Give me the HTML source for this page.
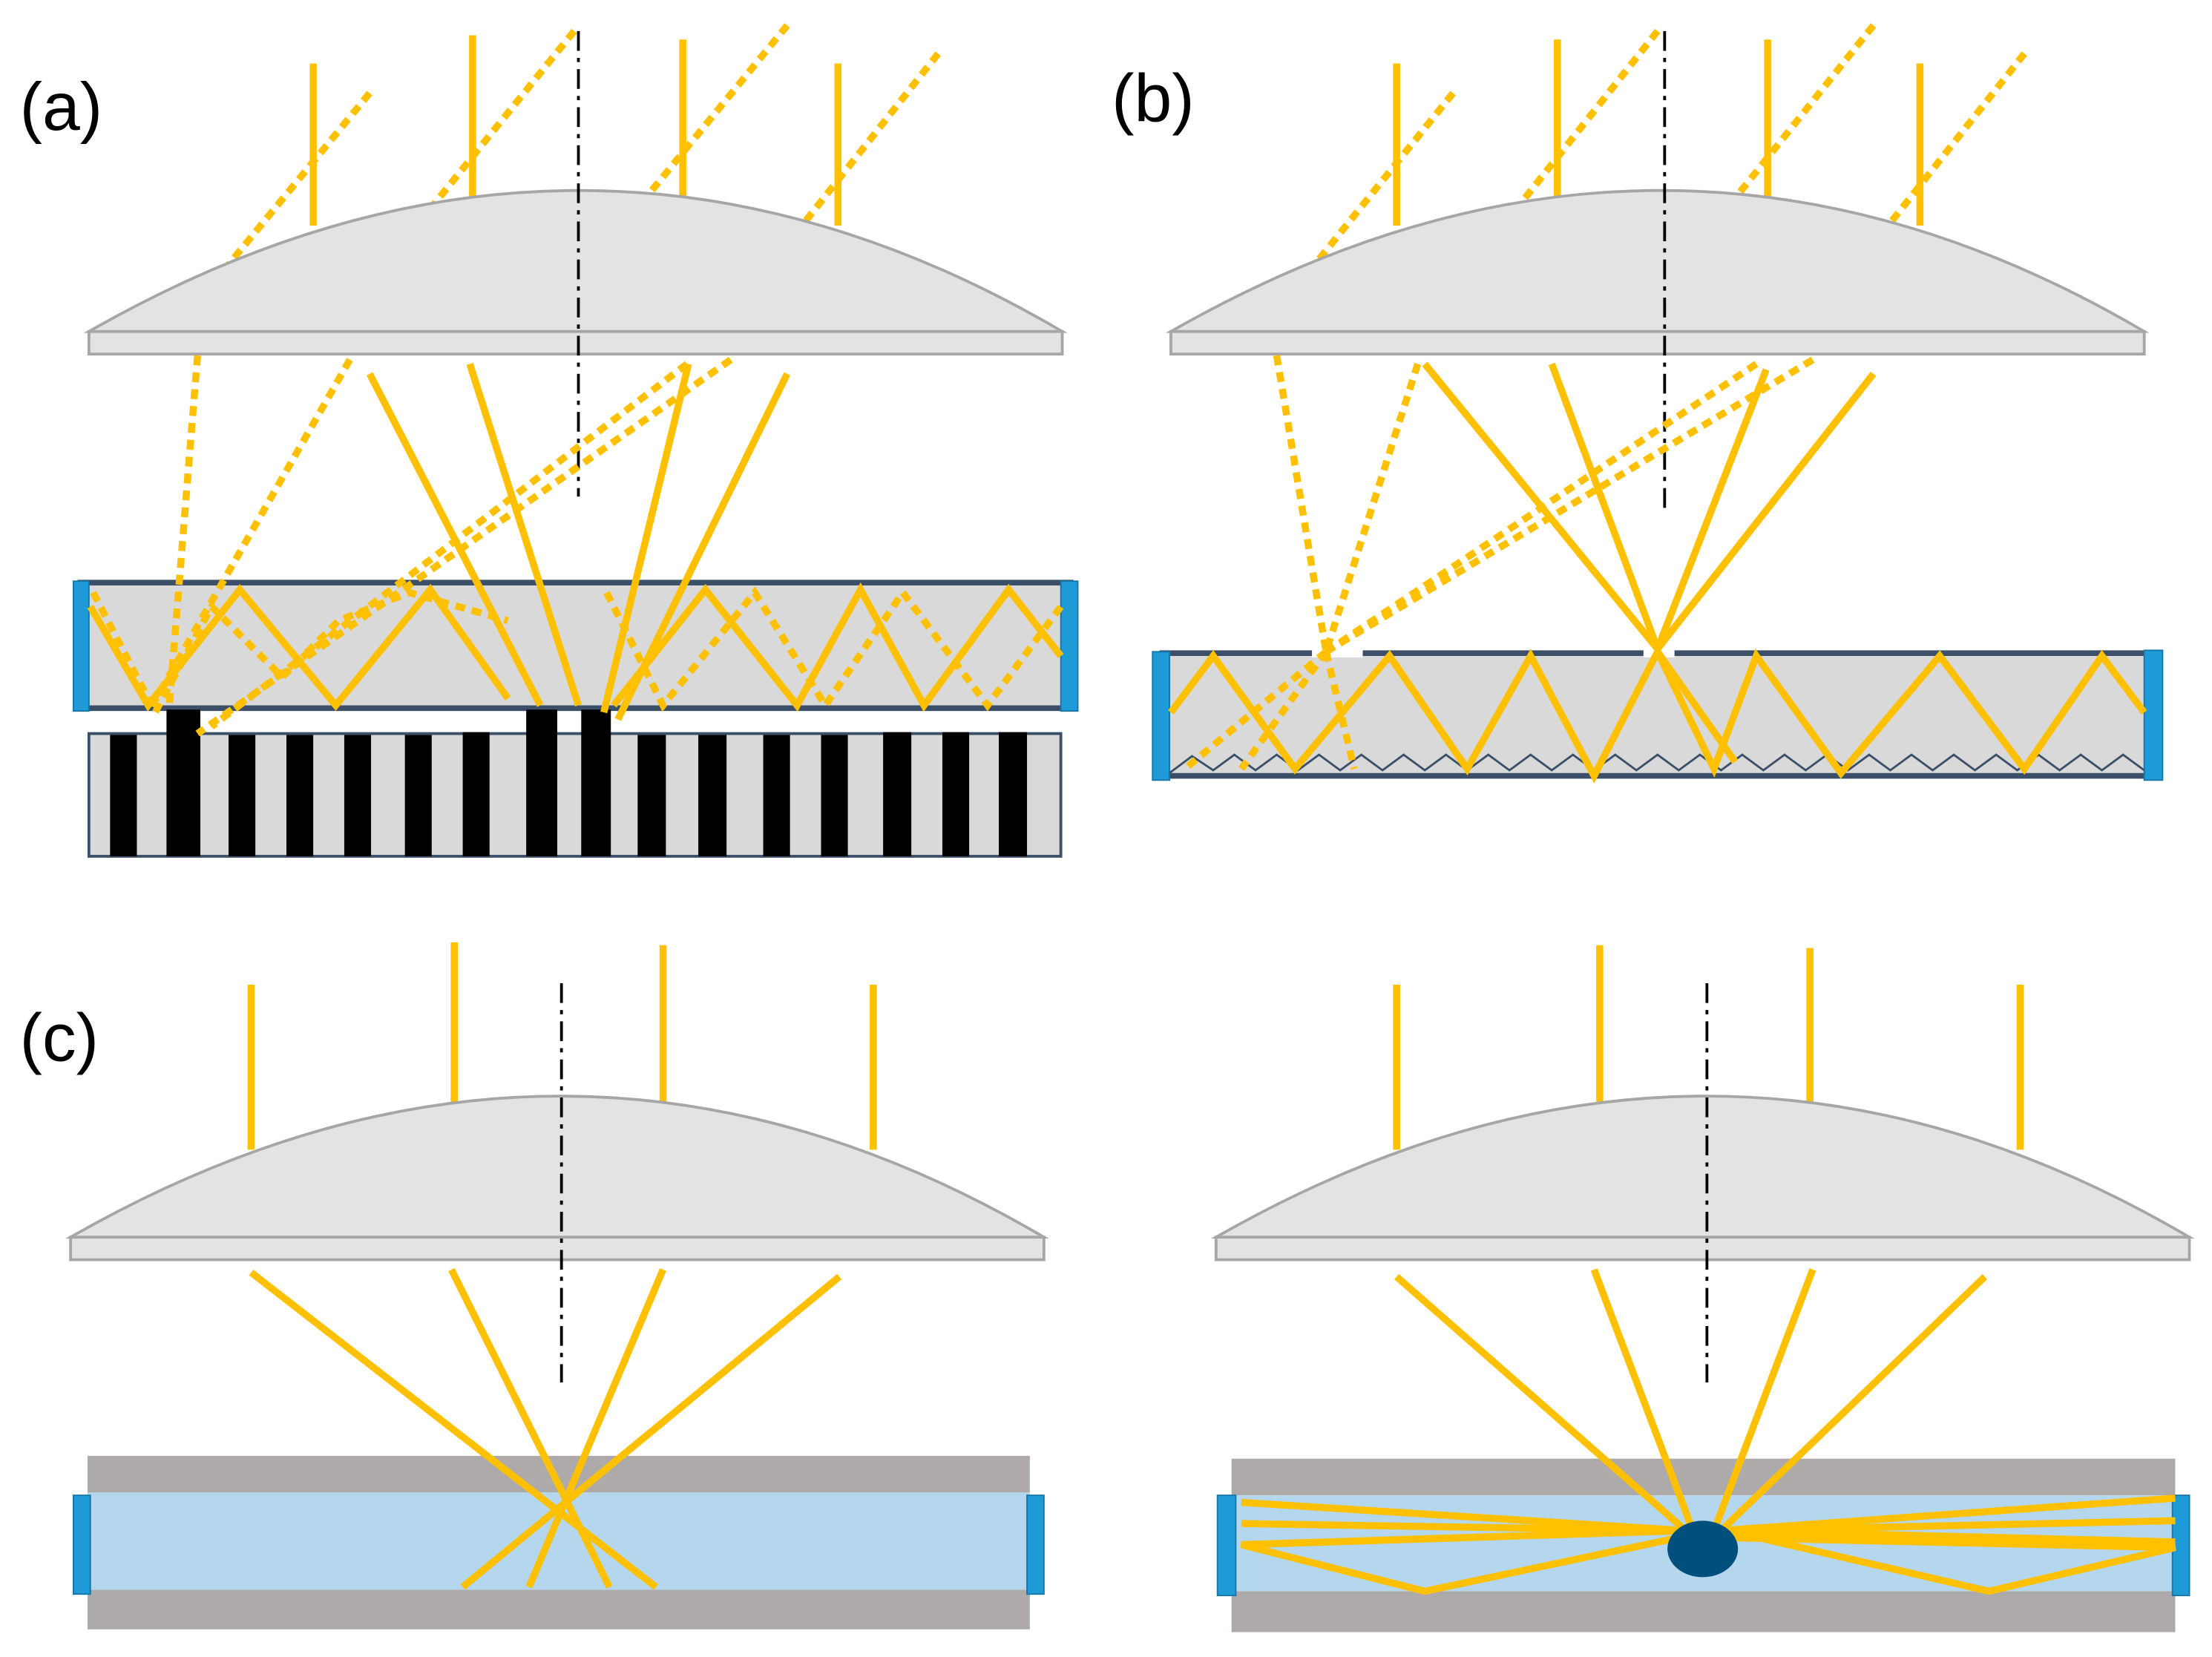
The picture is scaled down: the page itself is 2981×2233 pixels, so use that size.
<!DOCTYPE html>
<html><head><meta charset="utf-8"><style>html,body{margin:0;padding:0;background:#fff}svg{display:block}</style></head><body>
<svg width="2981" height="2233" viewBox="0 0 1568 1174.6" xmlns="http://www.w3.org/2000/svg">
<defs>
<g id="lens"><path d="M0,100 Q350,-100 690,100 Z" fill="#e3e3e3" stroke="#a6a6a6" stroke-width="2"/><rect x="0" y="100" width="690" height="16" fill="#e3e3e3" stroke="#a6a6a6" stroke-width="2"/></g>
</defs>
<g font-family="Liberation Sans, sans-serif" font-size="48" fill="#000">
<text x="14" y="92">(a)</text><text x="788" y="86">(b)</text><text x="14" y="752">(c)</text></g>

<!-- Panel a -->
<g stroke="#FFC000" stroke-width="5" fill="none">
<line x1="222" y1="45" x2="222" y2="160"/><line x1="335" y1="25" x2="335" y2="140"/><line x1="484" y1="28" x2="484" y2="140"/><line x1="594" y1="45" x2="594" y2="160"/>
<g stroke-dasharray="7,5"><line x1="262" y1="66" x2="160" y2="190"/><line x1="407" y1="22" x2="305" y2="148"/><line x1="558" y1="18" x2="462" y2="135"/><line x1="665" y1="38" x2="570" y2="158"/></g>
</g>
<use href="#lens" x="63" y="135"/>
<line x1="410" y1="22" x2="410" y2="352" stroke="#000" stroke-width="2" stroke-dasharray="14,5,3,5"/>
<rect x="57" y="413" width="702" height="89" fill="#d9d9d9" stroke="#3b5068" stroke-width="4"/>
<rect x="52" y="412" width="11" height="92" fill="#1e9bd7" stroke="#1577a8" stroke-width="1"/>
<rect x="752" y="412" width="12" height="92" fill="#1e9bd7" stroke="#1577a8" stroke-width="1"/>
<rect x="63" y="520" width="689" height="87" fill="#d9d9d9" stroke="#3b5068" stroke-width="2"/>
<g fill="#000">
<rect x="78" y="521" width="19" height="86"/><rect x="118" y="503" width="24" height="104"/><rect x="162" y="521" width="19" height="86"/><rect x="203" y="521" width="19" height="86"/><rect x="244" y="521" width="19" height="86"/><rect x="287" y="521" width="19" height="86"/><rect x="328" y="519" width="19" height="88"/><rect x="373" y="503" width="22" height="104"/><rect x="412" y="503" width="21" height="104"/><rect x="452" y="521" width="20" height="86"/><rect x="495" y="521" width="20" height="86"/><rect x="541" y="521" width="19" height="86"/><rect x="582" y="521" width="19" height="86"/><rect x="626" y="519" width="20" height="88"/><rect x="668" y="519" width="19" height="88"/><rect x="708" y="519" width="20" height="88"/></g>
<g stroke="#FFC000" stroke-width="5" fill="none" stroke-linejoin="miter">
<line x1="262" y1="265" x2="383" y2="500"/><line x1="333" y1="258" x2="410" y2="500"/><line x1="488" y1="258" x2="428" y2="505"/><line x1="558" y1="265" x2="438" y2="510"/>
<polyline points="64,430 105,500 170,418 238,500 305,418 360,495"/>
<polyline points="435,500 500,418 565,500 610,418 655,500 715,418 752,465"/>
<g stroke-dasharray="7,5"><line x1="140" y1="252" x2="120" y2="500"/><line x1="248" y1="255" x2="105" y2="505"/><line x1="487" y1="258" x2="150" y2="515"/><line x1="518" y1="255" x2="140" y2="520"/>
<polyline points="66,420 110,505 150,430 200,480 240,440 290,420 360,440"/>
<polyline points="430,420 470,500 535,420 585,500 640,420 700,500 752,430"/></g>
</g>

<!-- Panel b -->
<g stroke="#FFC000" stroke-width="5" fill="none">
<line x1="990" y1="45" x2="990" y2="160"/><line x1="1104" y1="28" x2="1104" y2="145"/><line x1="1253" y1="28" x2="1253" y2="145"/><line x1="1361" y1="45" x2="1361" y2="160"/>
<g stroke-dasharray="7,5"><line x1="1030" y1="66" x2="930" y2="190"/><line x1="1175" y1="22" x2="1075" y2="148"/><line x1="1328" y1="18" x2="1232" y2="138"/><line x1="1435" y1="38" x2="1340" y2="158"/></g>
</g>
<use href="#lens" x="830" y="135"/>
<line x1="1180" y1="22" x2="1180" y2="365" stroke="#000" stroke-width="2" stroke-dasharray="14,5,3,5"/>
<rect x="824" y="463" width="702" height="87" fill="#d9d9d9" stroke="#3b5068" stroke-width="4"/>
<rect x="817" y="462" width="12" height="91" fill="#1e9bd7" stroke="#1577a8"/>
<rect x="1520" y="461" width="13" height="92" fill="#1e9bd7" stroke="#1577a8"/>
<polyline points="829,548 845,536 860,546 875,535 890,546 905,535 920,546 935,535 950,546 965,535 980,546 995,535 1010,546 1025,535 1040,546 1055,535 1070,546 1085,535 1100,546 1115,535 1130,546 1145,535 1160,546 1175,535 1190,546 1205,535 1220,546 1235,535 1250,546 1265,535 1280,546 1295,535 1310,546 1325,535 1340,546 1355,535 1370,546 1385,535 1400,546 1415,535 1430,546 1445,535 1460,546 1475,535 1490,546 1505,535 1520,546" fill="none" stroke="#3b5068" stroke-width="1.5"/>
<rect x="930" y="458" width="36" height="8" fill="#fff"/><rect x="1165" y="458" width="22" height="8" fill="#fff"/>
<g stroke="#FFC000" stroke-width="5" fill="none">
<line x1="1010" y1="258" x2="1175" y2="460"/><line x1="1100" y1="258" x2="1175" y2="460"/><line x1="1252" y1="262" x2="1175" y2="460"/><line x1="1328" y1="265" x2="1175" y2="460"/>
<polyline points="830,505 860,465 918,545 985,465 1040,545 1085,465 1130,550 1175,462 1215,545 1245,465 1305,548 1375,465 1435,545 1490,465 1520,505"/>
<polyline points="1175,462 1230,540"/>
<g stroke-dasharray="7,5"><line x1="905" y1="252" x2="940" y2="462"/><line x1="1005" y1="258" x2="940" y2="462"/><line x1="1285" y1="255" x2="940" y2="462"/><line x1="1245" y1="258" x2="940" y2="462"/>
<line x1="940" y1="462" x2="840" y2="545"/><line x1="940" y1="462" x2="960" y2="545"/><line x1="940" y1="462" x2="880" y2="545"/></g>
</g>

<!-- Panel c left -->
<g stroke="#FFC000" stroke-width="5" fill="none">
<line x1="178" y1="698" x2="178" y2="815"/><line x1="322" y1="668" x2="322" y2="785"/><line x1="470" y1="670" x2="470" y2="785"/><line x1="619" y1="698" x2="619" y2="815"/></g>
<use href="#lens" x="50" y="777"/>
<line x1="398" y1="697" x2="398" y2="980" stroke="#000" stroke-width="2" stroke-dasharray="14,5,3,5"/>
<rect x="62" y="1032" width="668" height="26" fill="#aeaaaa"/>
<rect x="62" y="1058" width="668" height="69" fill="#b4d7ee"/>
<rect x="62" y="1127" width="668" height="28" fill="#aeaaaa"/>
<rect x="52" y="1060" width="12" height="70" fill="#1e9bd7" stroke="#1577a8"/>
<rect x="728" y="1060" width="12" height="70" fill="#1e9bd7" stroke="#1577a8"/>
<g stroke="#FFC000" stroke-width="5" fill="none">
<line x1="178" y1="902" x2="465" y2="1125"/><line x1="320" y1="900" x2="432" y2="1125"/><line x1="470" y1="900" x2="375" y2="1125"/><line x1="595" y1="905" x2="328" y2="1125"/></g>

<!-- Panel c right -->
<g stroke="#FFC000" stroke-width="5" fill="none">
<line x1="990" y1="698" x2="990" y2="815"/><line x1="1134" y1="670" x2="1134" y2="785"/><line x1="1283" y1="672" x2="1283" y2="787"/><line x1="1432" y1="698" x2="1432" y2="815"/></g>
<use href="#lens" x="862" y="777"/>
<line x1="1210" y1="697" x2="1210" y2="980" stroke="#000" stroke-width="2" stroke-dasharray="14,5,3,5"/>
<rect x="873" y="1034" width="669" height="26" fill="#aeaaaa"/>
<rect x="873" y="1060" width="669" height="68" fill="#b4d7ee"/>
<rect x="873" y="1128" width="669" height="29" fill="#aeaaaa"/>
<rect x="863" y="1060" width="13" height="71" fill="#1e9bd7" stroke="#1577a8"/>
<rect x="1540" y="1060" width="12" height="71" fill="#1e9bd7" stroke="#1577a8"/>
<g stroke="#FFC000" stroke-width="5" fill="none">
<line x1="990" y1="905" x2="1195" y2="1085"/><line x1="1130" y1="900" x2="1200" y2="1085"/><line x1="1285" y1="900" x2="1215" y2="1085"/><line x1="1407" y1="905" x2="1220" y2="1085"/>
<line x1="1195" y1="1085" x2="880" y2="1065"/><line x1="1195" y1="1085" x2="880" y2="1080"/><line x1="1195" y1="1085" x2="880" y2="1095"/>
<polyline points="1195,1085 880,1095 1010,1128 1190,1090"/>
<line x1="1220" y1="1085" x2="1542" y2="1062"/><line x1="1220" y1="1085" x2="1542" y2="1078"/><line x1="1220" y1="1085" x2="1542" y2="1093"/>
<polyline points="1225,1090 1542,1097 1410,1128 1225,1085"/>
</g>
<ellipse cx="1207" cy="1098" rx="25" ry="20" fill="#004f7c"/>
</svg>
</body></html>
